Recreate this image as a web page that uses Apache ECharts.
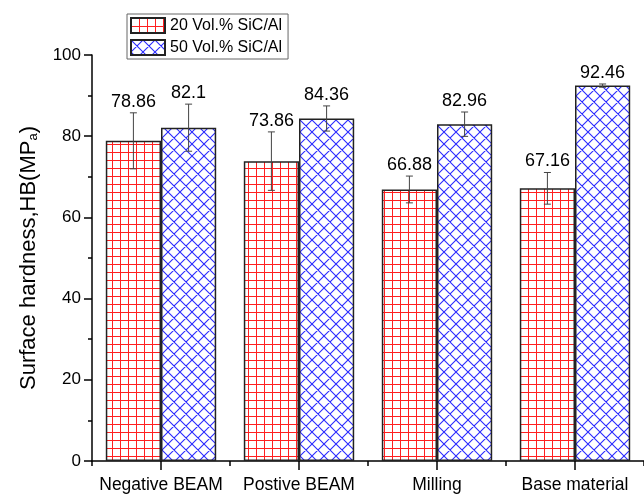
<!DOCTYPE html>
<html>
<head>
<meta charset="utf-8">
<script src="https://cdn.jsdelivr.net/npm/echarts@6/dist/echarts.min.js"></script>
<style>
html,body{margin:0;padding:0;background:#fff;}
#chart{width:644px;height:497px;}
</style>
</head>
<body>
<div id="chart"></div>
<script>
const categories = ['Negative BEAM', 'Postive BEAM', 'Milling', 'Base material'];
const seriesNames = ['20 Vol.% SiC/Al', '50 Vol.% SiC/Al'];
const values20 = [78.86, 73.86, 66.88, 67.16];
const values50 = [82.1, 84.36, 82.96, 92.46];
const err20 = [6.9, 7.2, 3.3, 3.9];
const err50 = [5.8, 3.1, 3.0, 0.4];
const yTicks = [0, 20, 40, 60, 80, 100];

const FONT = '"Liberation Sans", Arial, sans-serif';

function gridPattern() {
  const c = document.createElement('canvas');
  c.width = 8; c.height = 8;
  const ctx = c.getContext('2d');
  ctx.fillStyle = '#fff'; ctx.fillRect(0, 0, 8, 8);
  ctx.strokeStyle = '#ff2020'; ctx.lineWidth = 1;
  ctx.beginPath();
  ctx.moveTo(0.5, 0); ctx.lineTo(0.5, 8);
  ctx.moveTo(0, 0.5); ctx.lineTo(8, 0.5);
  ctx.stroke();
  return c;
}
function crossPattern() {
  const s = 12;
  const c = document.createElement('canvas');
  c.width = s; c.height = s;
  const ctx = c.getContext('2d');
  ctx.fillStyle = '#fff'; ctx.fillRect(0, 0, s, s);
  ctx.strokeStyle = '#2a2aff'; ctx.lineWidth = 1.1;
  ctx.beginPath();
  for (const k of [-s, 0, s]) {
    ctx.moveTo(k, 0); ctx.lineTo(k + s, s);
    ctx.moveTo(k + s, 0); ctx.lineTo(k, s);
  }
  ctx.stroke();
  return c;
}

const errData = [];
categories.forEach((c, i) => {
  errData.push([i, values20[i] - err20[i], values20[i] + err20[i], -1, values20[i]]);
  errData.push([i, values50[i] - err50[i], values50[i] + err50[i], 1, values50[i]]);
});

const chart = echarts.init(document.getElementById('chart'));
chart.setOption({
  animation: false,
  textStyle: { fontFamily: FONT },
  legend: {
    orient: 'vertical',
    left: 127, top: 14,
    padding: [3, 6, 3, 3],
    itemWidth: 34, itemHeight: 15, itemGap: 5,
    icon: 'rect',
    borderColor: '#666', borderWidth: 1,
    textStyle: { fontSize: 16, color: '#000', fontFamily: FONT },
    data: seriesNames
  },
  grid: { left: 92, right: 0, top: 55, bottom: 36 },
  xAxis: [{
    type: 'category', data: categories,
    axisLine: { lineStyle: { color: '#000', width: 1.5 } },
    axisTick: { show: true, length: 5, lineStyle: { color: '#000', width: 1.5 } },
    axisLabel: { fontSize: 17.5, color: '#000', margin: 15, interval: 0, fontFamily: FONT }
  }, {
    type: 'category', data: categories, position: 'bottom',
    axisLine: { show: false },
    axisTick: { show: true, alignWithLabel: true, length: 9, lineStyle: { color: '#000', width: 1.5 } },
    axisLabel: { show: false }
  }],
  yAxis: {
    type: 'value', min: 0, max: 100, interval: 20,
    name: '{n|Surface hardness,HB(MP}{s|a}{n|)}',
    nameLocation: 'middle', nameGap: 52, nameRotate: 90,
    nameTextStyle: {
      rich: {
        n: { fontSize: 22, color: '#000', fontFamily: FONT },
        s: { fontSize: 13, color: '#000', fontFamily: FONT, verticalAlign: 'bottom', padding: [10, 0, 0, 0] }
      }
    },
    axisLine: { show: true, lineStyle: { color: '#000', width: 1.5 } },
    axisTick: { show: true, length: 8, lineStyle: { color: '#000', width: 1.5 } },
    minorTick: { show: true, splitNumber: 2, length: 4, lineStyle: { color: '#000', width: 1.5 } },
    splitLine: { show: false },
    axisLabel: {
      fontSize: 17, color: '#000', margin: 11, fontFamily: FONT,
      formatter: v => (yTicks.indexOf(v) >= 0 ? String(v) : '')
    }
  },
  series: [{
    name: seriesNames[0], type: 'bar', data: values20,
    barGap: '0%', barCategoryGap: '20%',
    itemStyle: { color: { image: gridPattern(), repeat: 'repeat' }, borderColor: '#222', borderWidth: 1.5 }
  }, {
    name: seriesNames[1], type: 'bar', data: values50,
    barGap: '0%', barCategoryGap: '20%',
    itemStyle: { color: { image: crossPattern(), repeat: 'repeat' }, borderColor: '#222', borderWidth: 1.5 }
  }, {
    type: 'custom', data: errData, z: 10,
    renderItem: function (params, api) {
      const i = api.value(0);
      const side = api.value(3);
      const cw = api.size([1, 0])[0];
      const base = api.coord([i, api.value(1)]);
      const x = base[0] + side * cw * 0.2;
      const yLow = base[1];
      const yHigh = api.coord([i, api.value(2)])[1];
      const cap = 3.5;
      const ls = { stroke: '#444', lineWidth: 1 };
      return {
        type: 'group',
        children: [
          { type: 'line', shape: { x1: x, y1: yLow, x2: x, y2: yHigh }, style: ls },
          { type: 'line', shape: { x1: x - cap, y1: yLow, x2: x + cap, y2: yLow }, style: ls },
          { type: 'line', shape: { x1: x - cap, y1: yHigh, x2: x + cap, y2: yHigh }, style: ls },
          { type: 'text', style: { x: x, y: yHigh - 2, text: String(api.value(4)), fill: '#000',
            font: '18px ' + FONT, textAlign: 'center', textVerticalAlign: 'bottom' } }
        ]
      };
    }
  }]
});
</script>
</body>
</html>
